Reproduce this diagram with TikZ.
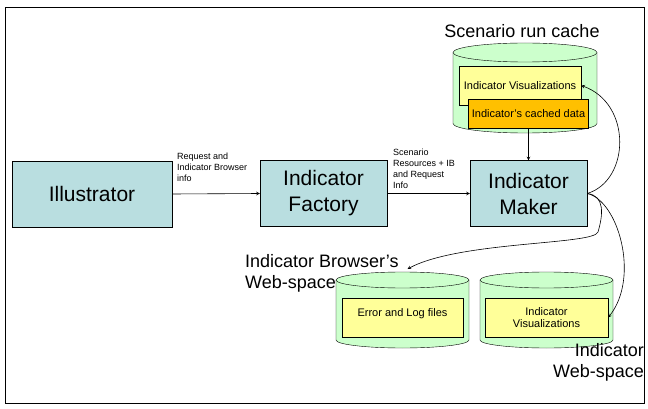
\documentclass[tikz,border=0pt]{standalone}
\usepackage{fontspec}
\setmainfont{Liberation Sans}
\usetikzlibrary{arrows}

\definecolor{boxblue}{HTML}{B9DEE0}
\definecolor{storegreen}{HTML}{CCFFCC}
\definecolor{vizyellow}{HTML}{FFFF99}
\definecolor{dataorange}{HTML}{FFC000}

% cylinder round a named box: #1 name, #2 half width, #3 radius of the ends
\newcommand{\drum}[3]{%
  \draw[fill=storegreen] ([yshift=-#3pt]#1.north west) -- ([yshift=#3pt]#1.south west)
    arc[start angle=180, end angle=360, x radius=#2pt, y radius=#3pt]
    -- ([yshift=-#3pt]#1.north east)
    arc[start angle=0, end angle=180, x radius=#2pt, y radius=#3pt] -- cycle;
  \draw ([yshift=-#3pt]#1.north west)
    arc[start angle=180, end angle=360, x radius=#2pt, y radius=#3pt];
}

\begin{document}
\begin{tikzpicture}[x=1pt, y=-1pt, >=stealth,
  block/.style={draw, fill=boxblue, align=center, font=\fontsize{21}{26}\selectfont},
  store/.style={inner sep=0pt, outer sep=0pt},
  filebox/.style={draw, fill=vizyellow, align=center, font=\fontsize{11}{12}\selectfont},
  note/.style={align=left, inner sep=0pt, font=\fontsize{9}{11}\selectfont},
  title/.style={inner sep=0pt, font=\fontsize{18}{21}\selectfont},
  flow/.style={->, line width=0.6pt}]
  \useasboundingbox (0,0) rectangle (648,409);
  \draw (5,7) rectangle (644,403);

  % main chain
  \node[block, minimum width=160, minimum height=66] at (92,194) (illus) {Illustrator};
  \node[block, minimum width=127, minimum height=66] at (323.5,193.5) (factory) {Indicator\\Factory};
  \node[block, minimum width=117, minimum height=66] at (528.5,193.5) (maker) {Indicator\\Maker};

  % scenario run cache
  \node[store, minimum width=144, minimum height=90] at (525,88) (cache) {};
  \drum{cache}{72}{9.5}
  \node[title] at (522,31) (cachetitle) {Scenario run cache};
  \node[filebox, minimum width=122, minimum height=39] at (520,85.5) (cviz) {Indicator Visualizations};
  \node[filebox, fill=dataorange, minimum width=117, minimum height=29] at (528.5,113.5) (cdata) {Indicator's cached data};

  % web-spaces
  \node[store, minimum width=133, minimum height=76] at (402.5,310) (webib) {};
  \drum{webib}{66.5}{8}
  \node[store, minimum width=133, minimum height=76] at (546.5,310) (webind) {};
  \drum{webind}{66.5}{8}
  \node[filebox, minimum width=121, minimum height=39,
    label={[anchor=north, yshift=-7pt, font=\fontsize{11}{12}\selectfont]north:Error and Log files}]
    at (402.5,317.5) (errlog) {};
  \node[filebox, minimum width=123, minimum height=39] at (546.5,317.5) (ibviz) {Indicator\\Visualizations};
  \node[title, anchor=north west, align=left] at (245,254) (webibtitle) {Indicator Browser's\\Web-space};
  \node[title, anchor=north east, align=right] at (644,343) (webindtitle) {Indicator\\Web-space};

  % flows
  \draw[flow] (illus.east) -- (factory.west);
  \node[note, anchor=north west] at (177,153) (req) {Request and\\Indicator Browser\\info};
  \draw[flow] (factory.east) -- (maker.west);
  \node[note, anchor=north west] at (393,149) (res) {Scenario\\Resources + IB\\and Request\\Info};
  \draw[flow] (cdata.south) -- (maker.north);

  \coordinate (bend) at (598,232);
  \draw[flow] (maker.east) .. controls +(43,-13) and +(51,18) .. (cviz.east);
  \draw[flow] (maker.east) .. controls +(18,2) and +(5,-17) .. (bend)
    .. controls +(-4,13) and +(52,-28) .. ([xshift=5pt, yshift=3pt]webib.north);
  \draw[flow] (maker.east) .. controls +(31,7) and +(32,-40) .. (ibviz.east);
\end{tikzpicture}
\end{document}
